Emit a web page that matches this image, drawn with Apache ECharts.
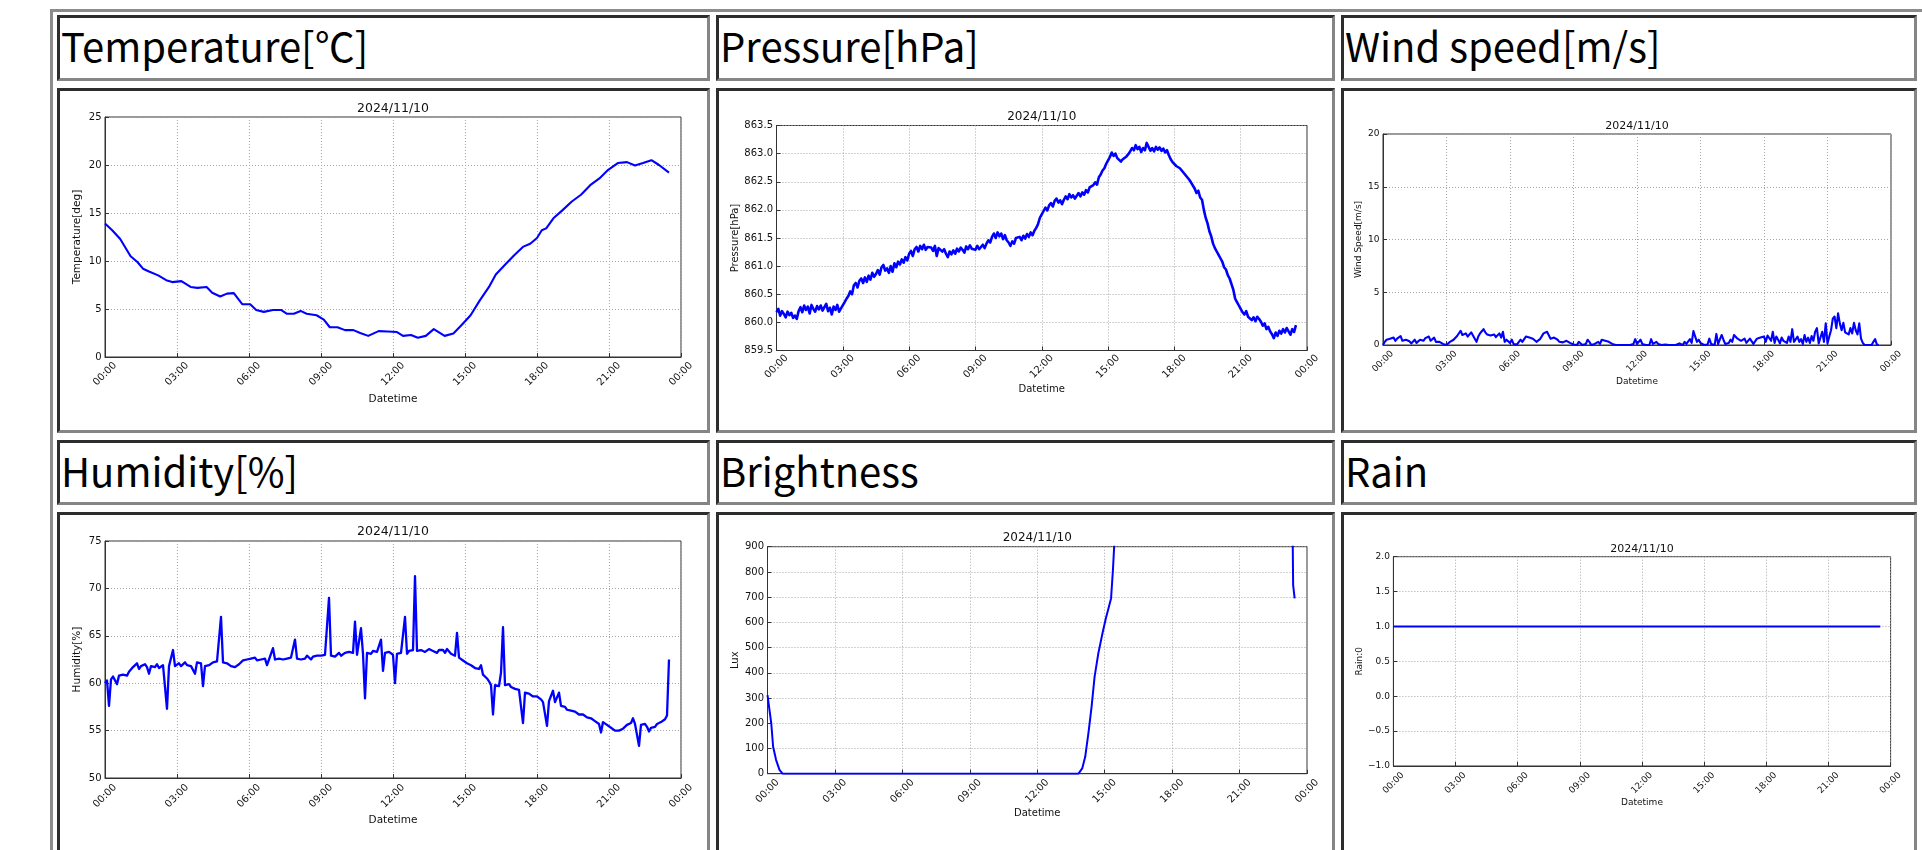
<!DOCTYPE html>
<html>
<head>
<meta charset="utf-8">
<script src="https://cdn.jsdelivr.net/npm/echarts@6/dist/echarts.min.js"></script>
<style>
html,body{margin:0;padding:0;width:1922px;height:850px;overflow:hidden;background:#fff;}
#page{position:relative;width:1922px;height:850px;overflow:hidden;}
.outer{position:absolute;left:50px;top:9px;width:1950px;height:950px;box-sizing:border-box;border-top:3px solid #8c8c8c;border-left:3px solid #8c8c8c;}
.cell{position:absolute;box-sizing:border-box;border-style:solid;border-width:3px;border-color:#2d2d2d #858585 #858585 #2d2d2d;background:#fff;}
.ttl{position:absolute;left:1px;top:7px;font-family:"Noto Sans CJK JP","Noto Sans",sans-serif;font-size:40px;line-height:40px;color:#000;white-space:nowrap;}
#chart{position:absolute;left:0;top:0;width:1922px;height:850px;}
</style>
</head>
<body>
<div id="page">
  <div class="outer"></div>
  <div class="cell" style="left:57px;top:15px;width:653px;height:66px;"><div class="ttl">Temperature[℃]</div></div>
  <div class="cell" style="left:716px;top:15px;width:619px;height:66px;"><div class="ttl">Pressure[hPa]</div></div>
  <div class="cell" style="left:1341px;top:15px;width:576px;height:66px;"><div class="ttl">Wind speed[m/s]</div></div>
  <div class="cell" style="left:57px;top:88px;width:653px;height:345px;"></div>
  <div class="cell" style="left:716px;top:88px;width:619px;height:345px;"></div>
  <div class="cell" style="left:1341px;top:88px;width:576px;height:345px;"></div>
  <div class="cell" style="left:57px;top:440px;width:653px;height:65px;"><div class="ttl">Humidity[%]</div></div>
  <div class="cell" style="left:716px;top:440px;width:619px;height:65px;"><div class="ttl">Brightness</div></div>
  <div class="cell" style="left:1341px;top:440px;width:576px;height:65px;"><div class="ttl">Rain</div></div>
  <div class="cell" style="left:57px;top:512px;width:653px;height:345px;"></div>
  <div class="cell" style="left:716px;top:512px;width:619px;height:345px;"></div>
  <div class="cell" style="left:1341px;top:512px;width:576px;height:345px;"></div>
  <div id="chart"></div>
</div>
<script>
// ---------------- DATA ----------------
const chartDate = '2024/11/10';
const xTickLabels = ['00:00','03:00','06:00','09:00','12:00','15:00','18:00','21:00','00:00'];
const sampleStepMinutes = 5; // regular sampling of pressure, humidity, wind (from 00:00)

const tempTimes = ['00:00','00:18','00:38','01:04','01:21','01:35','01:50','02:13','02:33','02:48',
  '03:11','03:34','03:51','04:14','04:28','04:48','05:05','05:22','05:43','06:03',
  '06:18','06:37','07:00','07:20','07:35','07:52','08:09','08:24','08:49','09:07',
  '09:22','09:41','10:00','10:21','10:38','10:58','11:24','11:47','12:10','12:25',
  '12:45','13:02','13:22','13:42','14:09','14:31','14:51','15:14','15:37','16:00',
  '16:17','16:40','17:03','17:26','17:43','18:00','18:12','18:23','18:41','19:04',
  '19:27','19:50','20:13','20:36','20:58','21:22','21:45','22:05','22:25','22:46',
  '23:05','23:30'];
const tempValues = [13.9,13.2,12.3,10.5,9.9,9.2,8.9,8.5,8.0,7.8,
  7.9,7.3,7.2,7.3,6.7,6.3,6.6,6.65,5.5,5.5,
  4.9,4.7,4.9,4.9,4.5,4.5,4.8,4.5,4.35,3.9,
  3.1,3.1,2.8,2.8,2.5,2.2,2.7,2.65,2.6,2.2,
  2.3,2.0,2.2,2.9,2.2,2.45,3.3,4.35,5.9,7.3,
  8.6,9.6,10.6,11.5,11.8,12.4,13.2,13.4,14.45,15.3,
  16.2,16.9,17.9,18.6,19.5,20.2,20.3,19.95,20.2,20.5,
  20.0,19.2];

const pressureValues = [
  860.18,860.24,860.12,860.20,860.15,860.09,860.19,860.13,860.17,860.08,860.12,860.06,
  860.20,860.27,860.18,860.30,860.22,860.28,860.16,860.31,860.24,860.19,860.29,860.23,
  860.30,860.21,860.27,860.33,860.20,860.26,860.14,860.28,860.22,860.31,860.19,860.25,
  860.24,860.36,860.42,860.47,860.55,860.50,860.66,860.70,860.62,860.74,860.78,860.70,
  860.80,860.72,860.83,860.76,860.88,860.81,860.86,860.93,860.85,860.98,861.02,860.92,
  860.96,860.88,861.00,860.90,861.05,860.98,861.08,861.03,861.12,861.06,861.16,861.10,
  861.22,861.27,861.18,861.30,861.34,861.26,861.36,861.30,861.38,861.29,861.34,861.37,
  861.33,861.27,861.36,861.18,861.32,861.35,861.26,861.30,861.22,861.16,861.26,861.21,
  861.28,861.22,861.31,861.26,861.33,861.29,861.24,861.35,861.30,861.37,861.31,861.34,
  861.29,861.36,861.30,861.34,861.38,861.32,861.40,861.46,861.42,861.52,861.58,861.50,
  861.60,861.53,861.58,861.48,861.55,861.46,861.42,861.36,861.44,861.40,861.50,861.47,
  861.52,861.46,861.54,861.49,861.57,861.52,861.60,861.55,861.63,861.68,861.75,861.86,
  861.92,861.98,862.04,861.99,862.08,862.12,862.06,862.16,862.20,862.13,862.17,862.10,
  862.18,862.24,862.19,862.28,862.22,862.26,862.20,862.25,862.30,862.24,862.31,862.27,
  862.35,862.31,862.40,862.37,862.44,862.49,862.45,862.58,862.63,862.70,862.74,862.82,
  862.88,862.94,863.02,862.96,863.00,862.92,862.95,862.86,862.90,862.88,862.95,862.99,
  863.04,863.10,863.06,863.15,863.08,863.12,863.03,863.10,863.06,863.19,863.12,863.05,
  863.10,863.04,863.12,863.07,863.11,863.05,863.09,863.02,863.06,862.97,862.90,862.85,
  862.84,862.78,862.80,862.74,862.70,862.66,862.62,862.58,862.54,862.49,862.46,862.38,
  862.30,862.34,862.22,862.18,862.00,861.86,861.76,861.62,861.53,861.40,861.32,861.26,
  861.20,861.14,861.08,860.98,860.94,860.84,860.78,860.68,860.58,860.42,860.36,860.30,
  860.24,860.18,860.14,860.20,860.10,860.12,860.04,860.09,860.02,860.10,860.06,860.01,
  859.94,859.98,859.88,859.92,859.84,859.79,859.72,859.82,859.76,859.85,859.80,859.88,
  859.82,859.90,859.84,859.78,859.88,859.83,859.95];

const windValues = [
  0,0.3,0.5,0.4,0.6,0.5,0.7,0.4,0.6,0.5,0.85,0.4,
  0.3,0.5,0.6,0.35,0.15,0.3,0.5,0.2,0.3,0.5,0.55,0.4,
  0.65,0.5,0.8,0.4,0.5,0.7,0.3,0.25,0.3,0.2,0.1,0.05,
  0,0.05,0.3,0.25,0.5,0.6,0.85,0.7,1.35,0.95,1.0,1.1,
  0.8,0.9,1.2,0.9,1.0,0.3,0.8,1.1,1.3,1.5,1.2,1.0,
  1.05,0.9,0.8,1.0,0.75,0.9,1.1,0.7,1.25,0.3,0.5,0.4,
  0.2,0.5,0.1,0.2,0.05,0,0.5,0.3,0.4,0.8,0.9,0.7,
  0.85,0.6,0.65,0.3,0.2,0.55,0.4,1.1,1.0,1.25,1.1,0.6,
  0.5,0.7,0.6,0.5,0.3,0.4,0.25,0.2,0.4,0.55,0.2,0.15,
  0.05,0.1,0,0.3,0.2,0,0,0.1,0.5,0.3,0,0,
  0.1,0.15,0.3,0.1,0.5,0.45,0.4,0.5,0.3,0.45,0.1,0,
  0,0,0,0,0,0,0,0,0,0,0.1,0.55,
  0.1,0,0.5,0.1,0,0,0,0,0.55,0.1,0,0.3,
  0.1,0.15,0,0,0.05,0,0,0,0,0,0,0,
  0.15,0,0,0.3,0.1,0,0.55,0.2,1.33,0.8,0.3,0.5,
  0.2,0.3,0,0,0.05,0.6,0.1,0,0,1.05,0.1,0,
  0.95,0.5,0.1,0,0.2,0.5,0.3,0.95,0.8,0.6,0.65,0.4,
  0.5,0.6,0.2,0.3,0.6,0.5,0.1,0.15,0.6,0.5,0.7,0.65,
  0.8,0.3,0.9,0.95,0.4,1.25,0.2,0.8,0.5,0.15,0.7,0.4,
  0.55,0.2,0.8,0.3,1.5,0.3,0.15,0.8,0.3,0.55,0.1,0.95,
  0.3,0.7,0.2,0.85,0.4,1.25,1.6,0.15,0.2,1.25,0.3,2.05,
  0.15,0.8,1.4,2.5,2.7,1.6,3.0,2.05,1.4,2.1,1.2,1.3,
  1.0,1.6,1.1,2.1,1.4,1.0,2.05,0.6,0.2,0,0,0,
  0,0,0.3,0.55,0.05,0];

const humidityValues = [
  60.0,60.3,57.6,60.4,60.7,60.5,59.9,60.8,60.6,60.9,61.0,60.8,
  61.2,61.4,61.7,61.9,62.1,61.5,61.8,61.6,62.0,61.7,61.0,61.8,
  61.9,61.7,62.0,61.6,61.8,61.9,62.1,57.3,61.8,61.9,63.5,61.8,
  61.9,62.1,61.8,62.0,62.2,61.9,62.1,61.8,62.0,61.0,62.2,62.0,
  62.1,59.7,61.8,62.0,61.9,62.1,62.2,62.0,62.3,62.1,67.0,62.2,
  62.3,62.1,62.0,61.8,61.9,61.7,61.8,62.0,62.2,62.4,62.6,62.5,
  62.4,62.6,62.5,62.7,62.4,62.6,62.5,62.7,62.6,61.9,62.5,62.7,
  63.7,62.5,62.7,62.6,62.8,62.5,62.7,62.6,62.8,62.7,62.5,64.6,
  62.6,62.8,62.5,62.7,62.6,62.9,62.7,62.5,62.8,62.6,62.9,62.7,
  62.9,62.7,63.0,62.8,69.0,62.9,63.1,62.8,63.0,63.2,62.9,63.1,
  63.2,63.0,63.3,63.1,63.2,66.5,63.0,63.2,65.8,63.1,58.4,63.2,
  63.3,63.1,63.4,63.2,63.3,63.1,64.6,61.3,63.2,63.0,63.3,63.1,
  63.0,60.0,63.1,62.9,63.2,63.0,67.0,63.1,63.4,63.2,63.5,71.3,
  63.4,63.3,63.5,63.6,63.3,63.4,63.6,63.7,63.4,63.3,63.2,63.5,
  63.3,63.5,63.2,63.6,63.4,63.1,63.2,62.9,65.3,62.7,62.6,62.4,
  62.3,62.1,62.2,61.9,61.8,61.6,61.4,61.5,61.9,60.9,60.7,60.5,
  60.2,59.8,56.7,59.8,59.9,59.7,61.1,65.9,59.8,59.7,59.9,59.6,
  59.6,59.4,59.5,59.3,59.2,55.8,59.0,58.8,58.9,58.7,58.6,58.7,
  58.6,58.4,58.3,58.0,58.2,55.5,58.1,57.9,59.2,58.0,57.8,59.0,
  57.6,57.4,57.5,57.2,57.0,57.1,56.9,57.0,56.8,56.7,56.6,56.7,
  56.5,56.4,56.2,56.3,56.1,56.0,55.8,55.7,54.8,55.9,55.7,55.6,
  55.5,55.3,55.2,55.0,55.1,55.0,54.9,55.2,55.4,55.6,55.5,55.8,
  56.3,55.7,55.6,53.4,55.6,55.8,55.7,55.4,54.9,55.3,55.5,55.4,
  55.7,55.8,55.9,56.0,56.2,56.6,62.5];

const brightTimes = ['00:00','00:10','00:15','00:23','00:32','00:40','13:50','14:00','14:08','14:17',
  '14:25','14:33','14:43','14:54','15:03','15:17','15:22','15:27','15:40','23:20','23:23','23:27'];
const brightValues = [312,200,107,54,15,0,0,21,67,166,
  265,384,477,556,615,695,807,950,1200,1200,748,695];

const rainTimes = ['00:00','23:30'];
const rainValues = [1,1];

// ---------------- BUILD ----------------
function toMin(t){ const p = t.split(':'); return (+p[0]) * 60 + (+p[1]); }
const pairs = (times, vals) => times.map((t, i) => [toMin(t), vals[i]]);
const sampled = vals => vals.map((v, i) => [i * sampleStepMinutes, v]);

const F = '"DejaVu Sans", sans-serif';
const fmtInt = v => String(Math.round(v));
const fmt1 = v => (v < 0 ? '\u2212' : '') + Math.abs(v).toFixed(1);

const panels = [
  {grid:{left:105, top:117, width:576, height:240}, titleOff:8.7, ymin:0, ymax:25, yint:5, yfmt:fmtInt, lw:2.1,
   yname:'Temperature[deg]', xGap:36.5, yGap:22, xMargin:17, tick:10, name:10.5, title:12.5, data:pairs(tempTimes, tempValues)},
  {grid:{left:776.5, top:125.5, width:530.5, height:225}, titleOff:8.8, ymin:859.5, ymax:863.5, yint:0.5, yfmt:fmt1, lw:2.6,
   yname:'Pressure[hPa]', xGap:34, yGap:36, xMargin:16, tick:10, name:10, title:12, data:sampled(pressureValues)},
  {grid:{left:1383, top:134, width:508, height:211}, titleOff:8, ymin:0, ymax:20, yint:5, yfmt:fmtInt, lw:2.1,
   yname:'Wind Speed[m/s]', xGap:32, yGap:19.5, xMargin:16.5, tick:9, name:9, title:11, data:sampled(windValues)},
  {grid:{left:105, top:541, width:576, height:237}, titleOff:9.3, ymin:50, ymax:75, yint:5, yfmt:fmtInt, lw:2.3,
   yname:'Humidity[%]', xGap:36.5, yGap:22, xMargin:18, tick:10, name:10.5, title:12.5, data:sampled(humidityValues)},
  {grid:{left:767.5, top:546.7, width:539.5, height:227}, titleOff:8.4, ymin:0, ymax:900, yint:100, yfmt:fmtInt, lw:2,
   yname:'Lux', xGap:34.5, yGap:27, xMargin:17.5, tick:10, name:10, title:12, data:pairs(brightTimes, brightValues)},
  {grid:{left:1393.4, top:556.7, width:497.2, height:209.3}, titleOff:7.7, ymin:-1, ymax:2, yint:0.5, yfmt:fmt1, lw:2,
   yname:'Rain:0', xGap:32, yGap:29.5, xMargin:17, tick:9, name:9, title:11, data:pairs(rainTimes, rainValues)}
];

const TXT = '#111';
const AX = '#333';
const GRIDLINE = {show:true, lineStyle:{color:'#a6a6a6', width:1, type:[1,2]}};

const option = {
  animation:false,
  backgroundColor:'transparent',
  grid: panels.map(p => Object.assign({show:true, borderColor:AX, borderWidth:1, backgroundColor:'transparent', containLabel:false, outerBoundsMode:'none'}, p.grid)),
  xAxis: panels.map((p, i) => ({
    type:'value', gridIndex:i, min:0, max:1440, interval:180,
    name:'Datetime', nameLocation:'middle', nameGap:p.xGap,
    nameTextStyle:{fontFamily:F, fontSize:p.name, color:TXT},
    axisLine:{show:true, onZero:false, lineStyle:{color:AX, width:1}},
    axisTick:{show:true, inside:true, length:4, lineStyle:{color:AX}},
    axisLabel:{rotate:45, align:'center', verticalAlign:'middle', margin:p.xMargin,
      fontFamily:F, fontSize:p.tick, color:TXT, showMinLabel:true, showMaxLabel:true,
      formatter: v => xTickLabels[Math.round(v / 180)]},
    splitLine:GRIDLINE
  })),
  yAxis: panels.map((p, i) => ({
    type:'value', gridIndex:i, min:p.ymin, max:p.ymax, interval:p.yint,
    name:p.yname, nameLocation:'middle', nameGap:p.yGap, nameRotate:90,
    nameTextStyle:{fontFamily:F, fontSize:p.name, color:TXT},
    axisLine:{show:true, onZero:false, lineStyle:{color:AX, width:1}},
    axisTick:{show:true, inside:true, length:4, lineStyle:{color:AX}},
    axisLabel:{margin:3.5, fontFamily:F, fontSize:p.tick, color:TXT, showMinLabel:true, showMaxLabel:true, formatter:p.yfmt},
    splitLine:GRIDLINE
  })),
  graphic: panels.map(p => ({
    type:'text', silent:true,
    x: p.grid.left + p.grid.width / 2, y: p.grid.top - p.titleOff,
    style:{text:chartDate, fontFamily:F, fontSize:p.title, fill:TXT, align:'center', verticalAlign:'middle'}
  })),
  series: panels.map((p, i) => ({
    type:'line', xAxisIndex:i, yAxisIndex:i, data:p.data,
    showSymbol:false, symbol:'none', clip:true, silent:true,
    lineStyle:{color:'#0000ff', width:p.lw, join:'round'}, itemStyle:{color:'#0000ff'}
  }))
};

const chart = echarts.init(document.getElementById('chart'), null, {renderer:'canvas', width:1922, height:850});
chart.setOption(option);
</script>
</body>
</html>
